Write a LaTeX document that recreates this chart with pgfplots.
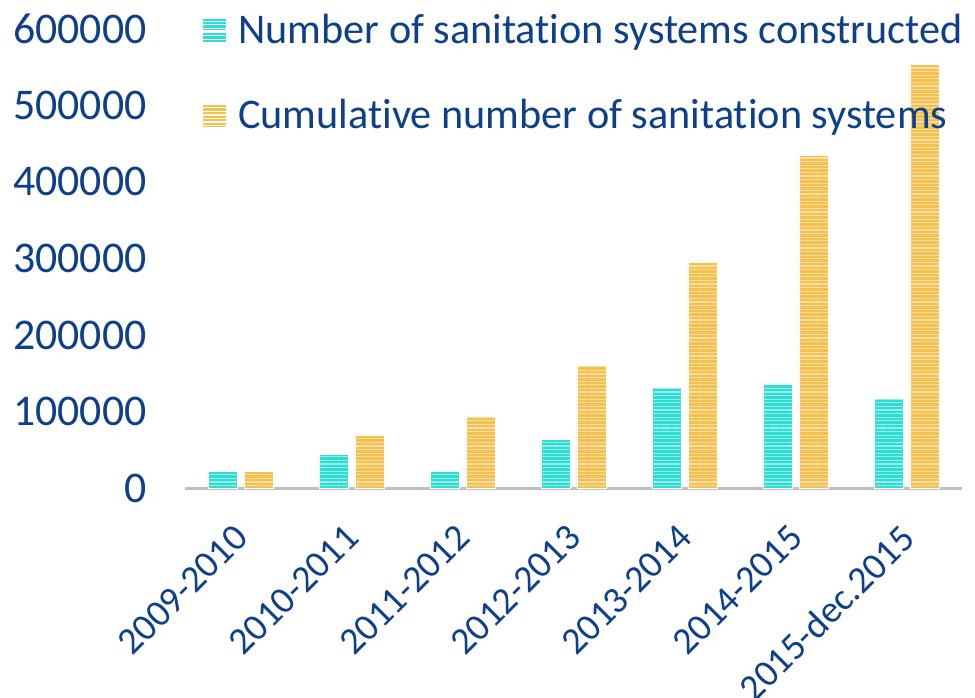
\documentclass[border=0pt]{standalone}
\usepackage{fontspec}
\setmainfont{Carlito}[Ligatures=NoCommon]
\usepackage{pgfplots}
\pgfplotsset{compat=1.18}
\usetikzlibrary{patterns.meta}
\definecolor{txtblue}{HTML}{0E3F8A}
\definecolor{cyanbar}{HTML}{2FDDD3}
\definecolor{orangebar}{HTML}{F4C04E}
\definecolor{axgray}{HTML}{BFBFBF}
\pgfplotstableread{
x cons cum
0 22400 22400
1 45000 70000
2 23000 94500
3 64500 161000
4 132000 295000
5 136500 434000
6 117600 553500
}\datatable
\begin{document}
\begin{tikzpicture}[x=1bp,y=1bp]
\begin{axis}[
  at={(92.5bp,104.75bp)}, anchor=south west,
  scale only axis,
  width=388.5bp, height=230bp,
  xmin=-0.5, xmax=6.5, ymin=0, ymax=600000,
  ybar=3.5bp, bar width=14.5bp,
  axis x line*=bottom, axis y line*=left,
  x axis line style={-, draw=axgray, line width=1.6bp},
  y axis line style={draw=none},
  xtick=data,
  xticklabels={2009-2010,2010-2011,2011-2012,2012-2013,2013-2014,2014-2015,2015-dec.2015},
  x tick label style={rotate=45, anchor=north east, font=\fontsize{19}{23}\selectfont, text=txtblue, inner sep=0pt, xshift=-14.8bp, yshift=-9bp},
  ytick={0,100000,...,600000},
  y tick label style={font=\fontsize{22}{26}\selectfont, text=txtblue, anchor=east, inner sep=0pt, xshift=-19bp},
  major tick length=0pt,
  tick style={draw=none},
  scaled y ticks=false,
  /pgf/number format/.cd, fixed, 1000 sep={}, assume math mode=true,
  /pgfplots/.cd,
  legend style={draw=none, fill=none, at={(0.021,1.04)}, anchor=north west,
    font=\fontsize{21.2}{25}\selectfont, text=txtblue, row sep=22bp, inner sep=0pt},
  legend cell align=left,
  legend image code/.code={\fill[#1] (0bp,-6bp) rectangle (12bp,6bp);
     \fill[pattern={Lines[distance=1.8bp,line width=0.55bp,angle=0]}, pattern color=white!85!#1] (0bp,-6bp) rectangle (12bp,6bp);
     \path (0bp,0bp) -- (16bp,0bp);},
]
\addplot[draw=white, line width=0.3bp, fill=cyanbar,
  postaction={pattern={Lines[distance=1.8bp,line width=0.55bp,angle=0]}, pattern color=white, opacity=0.5}] table[x=x,y=cons]{\datatable};
\addlegendentry{Number of sanitation systems constructed}
\addplot[draw=white, line width=0.3bp, fill=orangebar,
  postaction={pattern={Lines[distance=1.8bp,line width=0.55bp,angle=0]}, pattern color=white, opacity=0.5}] table[x=x,y=cum]{\datatable};
\addlegendentry{Cumulative number of sanitation systems}
\end{axis}
\pgfresetboundingbox
\useasboundingbox (0,0) rectangle (487.5bp,349bp);
\end{tikzpicture}
\end{document}
